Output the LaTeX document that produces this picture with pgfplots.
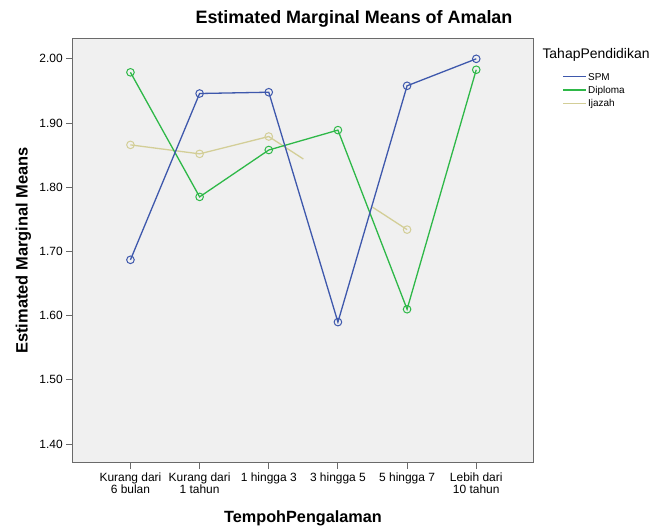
\documentclass[border=0pt]{standalone}
\usepackage{fontspec}
\setmainfont{Liberation Sans}
\usepackage{pgfplots}
\pgfplotsset{compat=1.18}

\definecolor{spm}{HTML}{3E58AC}
\definecolor{dip}{HTML}{2EB848}
\definecolor{ija}{HTML}{D3CE97}
\definecolor{bg}{HTML}{F0F0F0}
\definecolor{frame}{HTML}{6A6A6A}

\begin{document}
\begin{tikzpicture}
\useasboundingbox (0bp,0bp) rectangle (656bp,527bp);
\begin{axis}[
  at={(72.7bp,64.3bp)}, anchor=south west,
  scale only axis, width=460.6bp, height=424.4bp,
  xmin=-0.835, xmax=5.825,
  ymin=1.371, ymax=2.032,
  axis background/.style={fill=bg},
  axis line style={draw=frame, line width=1.3bp},
  xtick pos=left, ytick pos=left,
  tick align=outside, major tick length=6.5bp,
  tick style={draw=frame, line width=1bp},
  xtick={0,1,2,3,4,5},
  xticklabels={{Kurang dari\\6 bulan},{Kurang dari\\1 tahun},{1 hingga 3},{3 hingga 5},{5 hingga 7},{Lebih dari\\10 tahun}},
  xticklabel style={align=center, font=\fontsize{12}{12}\selectfont},
  ytick={1.4,1.5,1.6,1.7,1.8,1.9,2.0},
  yticklabel style={font=\fontsize{12}{12}\selectfont,
    /pgf/number format/.cd, fixed, fixed zerofill, precision=2},
  /pgf/number format/assume math mode=true,
  title={Estimated Marginal Means of Amalan},
  title style={at={(axis description cs:0.6107,1.0219)}, anchor=base,
    font=\bfseries\fontsize{18}{18}\selectfont},
  xlabel={TempohPengalaman},
  xlabel style={at={(axis description cs:0.5,-0.1415)}, anchor=base,
    font=\bfseries\fontsize{16.3}{16.3}\selectfont},
  ylabel={Estimated Marginal Means},
  ylabel style={at={(axis description cs:-0.0981,0.5)}, anchor=base,
    font=\bfseries\fontsize{16.5}{16.5}\selectfont},
  every axis plot/.append style={line width=1.3bp, mark size=3.8bp,
    mark options={solid, line width=1bp, fill=none}},
]
% Ijazah (3 hingga 5 has no estimate: SPSS draws half segments)
\addplot[ija, mark=o, mark indices={1,2,3}] coordinates {
  (0,1.866) (1,1.852) (2,1.879) (2.5,1.844)
};
\addplot[ija, mark=o, mark indices={2}] coordinates {
  (3.5,1.769) (4,1.734)
};
% Diploma
\addplot[dip, mark=o] coordinates {
  (0,1.979) (1,1.785) (2,1.858) (3,1.889) (4,1.610) (5,1.983)
};
% SPM
\addplot[spm, mark=o] coordinates {
  (0,1.687) (1,1.946) (2,1.948) (3,1.590) (4,1.958) (5,2.000)
};
\end{axis}

% legend
\node[anchor=base west, inner sep=0pt, font=\fontsize{14}{14}\selectfont]
  at (542.3bp,468.7bp) {TahapPendidikan};
\draw[draw=spm, line width=1.4bp] (563.3bp,450.3bp) -- (586bp,450.3bp);
\node[anchor=base west, inner sep=0pt, font=\fontsize{10}{10}\selectfont]
  at (588bp,446.7bp) {SPM};
\draw[draw=dip, line width=1.4bp] (563.3bp,437bp) -- (586bp,437bp);
\node[anchor=base west, inner sep=0pt, font=\fontsize{10}{10}\selectfont]
  at (588bp,433.4bp) {Diploma};
\draw[draw=ija, line width=1.4bp] (563.3bp,423.7bp) -- (586bp,423.7bp);
\node[anchor=base west, inner sep=0pt, font=\fontsize{10}{10}\selectfont]
  at (588bp,420.1bp) {Ijazah};
\end{tikzpicture}
\end{document}
